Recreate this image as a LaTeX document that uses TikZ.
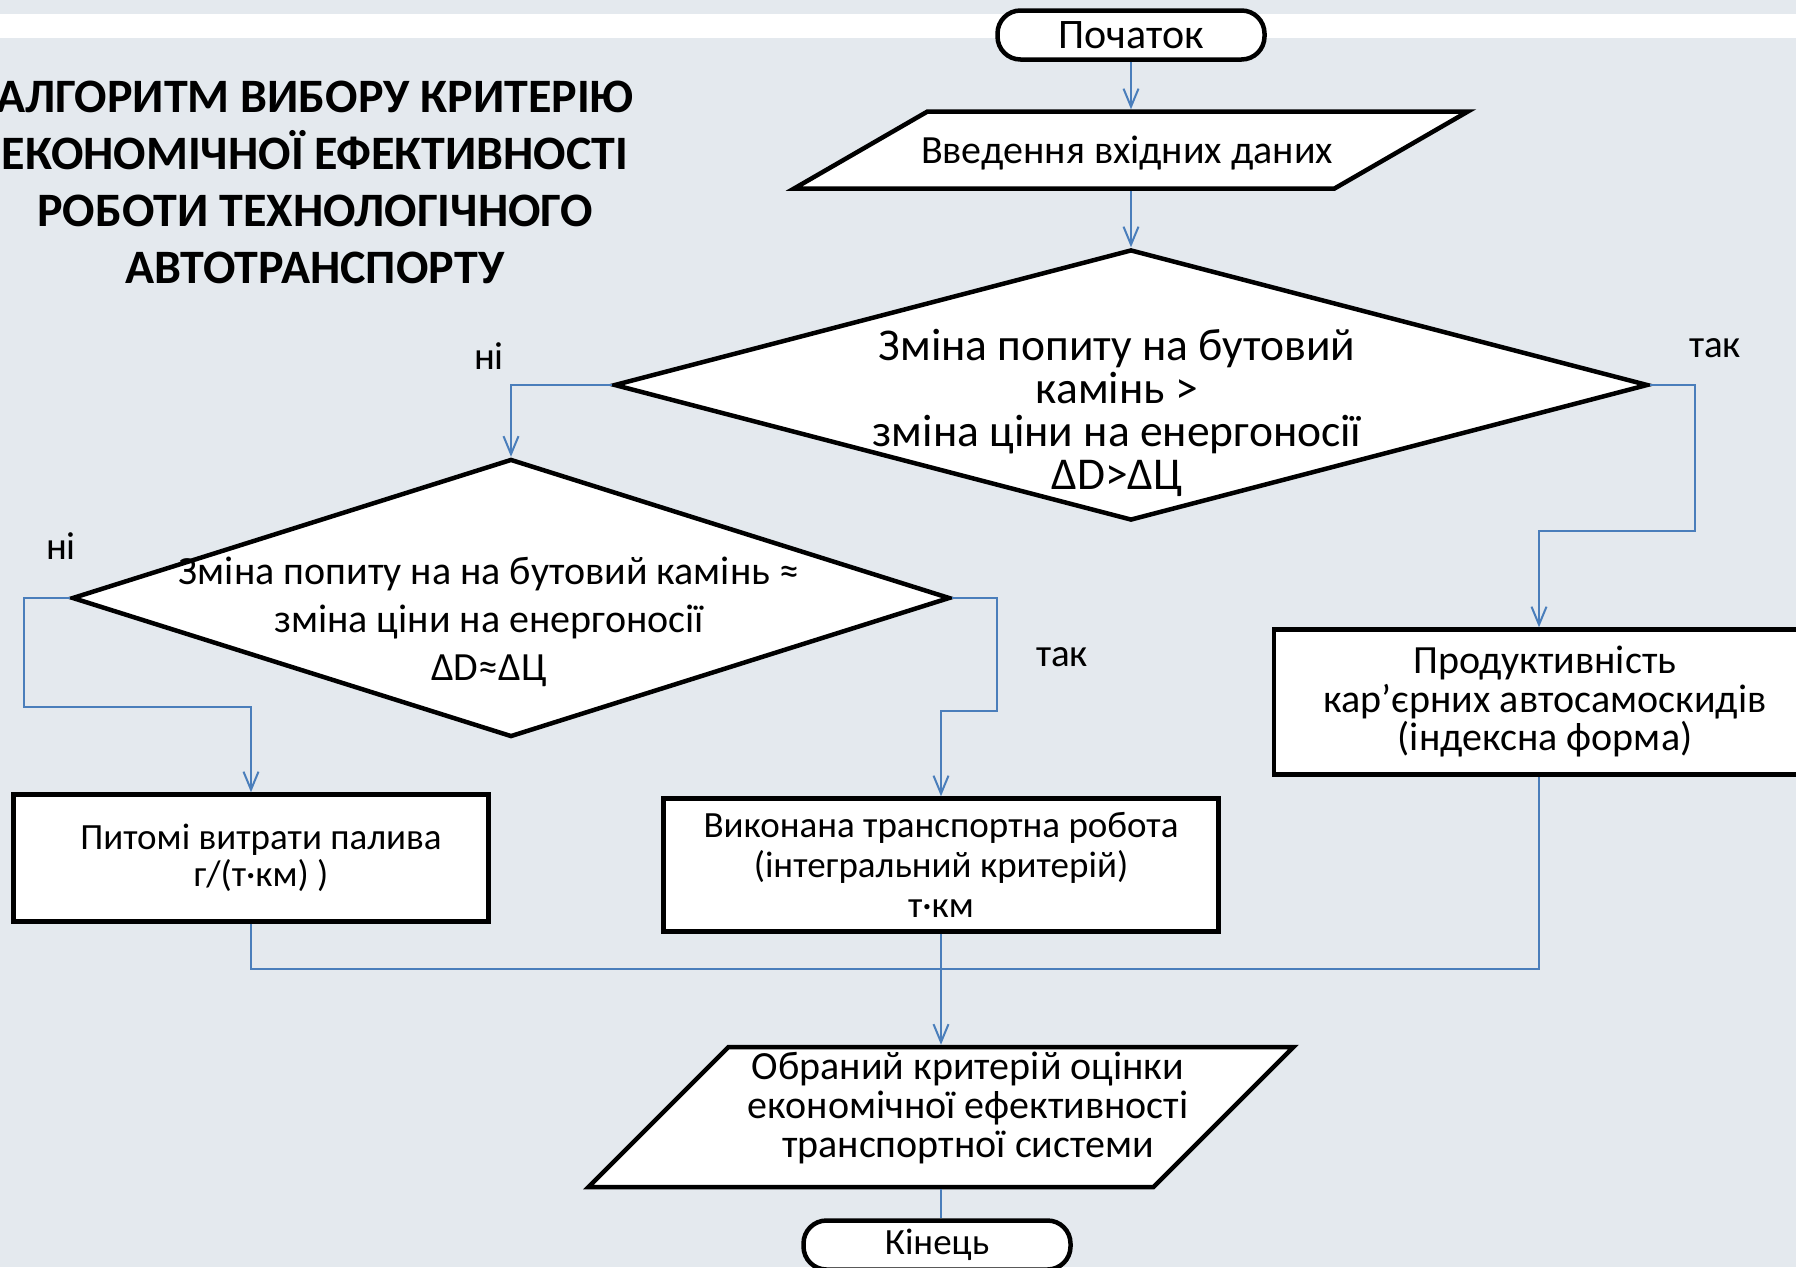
\documentclass[tikz,border=0pt]{standalone}
\usepackage{fontspec}
\setmainfont{Carlito}
\usetikzlibrary{arrows.meta,shapes.geometric}
\definecolor{bgcol}{HTML}{E4E9EE}
\definecolor{linkcol}{HTML}{4A7EBB}
\tikzset{
	shape box/.style={draw=black, line width=4.5pt, fill=white, align=center, inner sep=0pt},
	terminal/.style={shape box, rectangle, rounded corners=23pt, minimum width=267pt, minimum height=49pt},
	io/.style={shape box, trapezium},
	decision/.style={shape box, diamond},
	process/.style={shape box, rectangle},
	dtext/.style={align=center, inner sep=0pt},
	answer/.style={font=\fontsize{39}{46}\selectfont},
	link/.style={draw=linkcol, line width=2pt},
	flow/.style={link, -{Straight Barb[length=18pt, width=15pt, line width=2pt]}}
}
\begin{document}
\begin{tikzpicture}[x=1pt, y=-1pt]
	\useasboundingbox (0,0) rectangle (1796,1267);
	\fill[bgcol] (0,0) rectangle (1796,1267);
	\fill[white] (0,14) rectangle (1796,38);
	
	\node[align=center, font=\bfseries\fontsize{48}{57}\selectfont] (title) at (315,182) {АЛГОРИТМ ВИБОРУ КРИТЕРІЮ\\ЕКОНОМІЧНОЇ ЕФЕКТИВНОСТІ\\РОБОТИ ТЕХНОЛОГІЧНОГО\\АВТОТРАНСПОРТУ};
	
	\node[terminal, font=\fontsize{42}{48}\selectfont] (start) at (1131,35) {Початок};
	\node[io, trapezium left angle=30, trapezium right angle=150, inner xsep=203.5pt, inner ysep=38.5pt] (input) at (1131,150) {};
	\node[dtext, font=\fontsize{40}{40}\selectfont] (inputtext) at (1127,153) {Введення вхідних даних};
	\node[decision, minimum width=1034pt, minimum height=271pt] (d1) at (1131,385) {};
	\node[dtext, font=\fontsize{45.5}{43}\selectfont] (d1text) at (1117,413) {Зміна попиту на бутовий\\камінь >\\зміна ціни на енергоносії\\ΔD>ΔЦ};
	\node[decision, minimum width=878pt, minimum height=278pt] (d2) at (511,598) {};
	\node[dtext, font=\fontsize{40}{48}\selectfont] (d2text) at (489,622) {Зміна попиту на на бутовий камінь ≈\\зміна ціни на енергоносії\\ΔD≈ΔЦ};
	
	\node[process, minimum width=475pt, minimum height=127pt, font=\fontsize{37}{37}\selectfont] (fuel) at (251,858) {\hspace*{20pt}Питомі витрати палива\\\hspace*{20pt}г/(т·км) )};
	\node[process, minimum width=555pt, minimum height=133pt, font=\fontsize{37}{40}\selectfont] (work) at (941,865) {Виконана транспортна робота\\(інтегральний критерій)\\т·км};
	\node[process, minimum width=542pt, minimum height=145pt, font=\fontsize{40}{38.5}\selectfont] (prod) at (1545,702) {Продуктивність\\кар’єрних автосамоскидів\\(індексна форма)};
	
	\node[io, trapezium left angle=45, trapezium right angle=135, inner xsep=212.5pt, inner ysep=70pt] (result) at (941,1117) {};
	\node[dtext, font=\fontsize{40}{39}\selectfont] (resulttext) at (968,1108) {Обраний критерій оцінки\\економічної ефективності\\транспортної системи};
	\node[terminal, font=\fontsize{37}{44}\selectfont] (stop) at (937,1245) {Кінець};
	
	\node[answer] (no1) at (489,356) {ні};
	\node[answer] (yes1) at (1715,348) {так};
	\node[answer] (no2) at (61,546) {ні};
	\node[answer] (yes2) at (1062,657) {так};
	
	\coordinate (j1) at (1695,531);
	\coordinate (j2) at (24,707);
	\coordinate (j3) at (997,711);
	\coordinate (merge) at (941,969);
	
	\draw[flow] (start) -- (input);
	\draw[flow] (input) -- (d1.north);
	\draw[flow] (d1.west) -| (d2.north);
	\draw[flow] (d1.east) -| (j1) -| ([xshift=-6pt]prod.north);
	\draw[flow] (d2.west) -| (j2) -| (fuel.north);
	\draw[flow] (d2.east) -| (j3) -| (work.north);
	\draw[link] (fuel.south) |- (merge) -| ([xshift=-6pt]prod.south);
	\draw[flow] (work.south) -- (result.north);
	\draw[link] (result.south) -- (result.south |- stop.north);
\end{tikzpicture}
\end{document}
